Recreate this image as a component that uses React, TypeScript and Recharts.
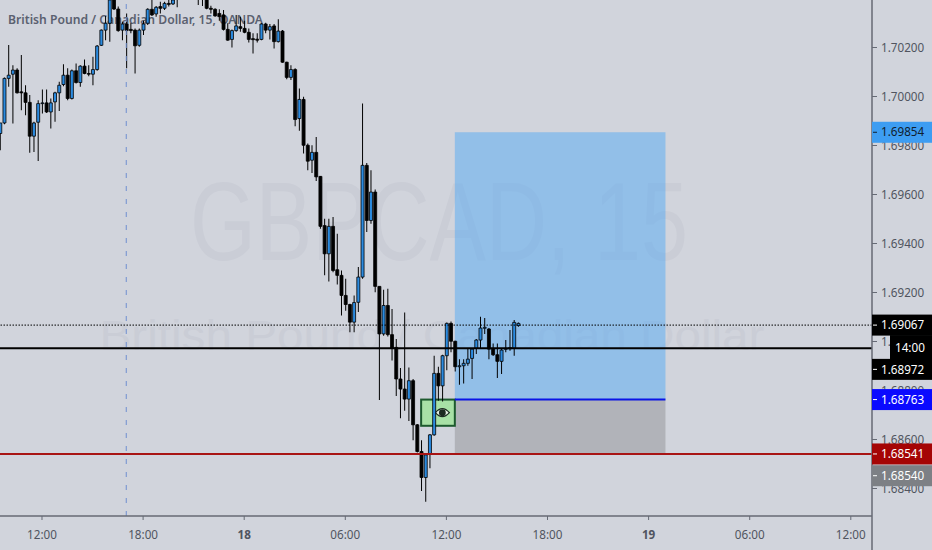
import React from "react";
import { ComposedChart, Bar, XAxis, YAxis, ReferenceLine, ReferenceArea, Cell } from "recharts";

const firstBar = -10;
// prices in 1e-5 units, one entry per 15 minute bar
const opens = [169849,169892,170074,170091,170108,170019,170015,169976,169838,169895,169971,169974,169937,169978,170015,170049,170087,169992,170105,170057,170124,170094,170091,170110,170209,170271,170299,170408,170357,170271,170296,170274,170271,170209,170271,170299,170356,170337,170367,170360,170380,170378,170405,170415,170430,170425,170440,170420,170405,170401,170360,170356,170339,170333,170274,170233,170269,170285,170278,170262,170236,170234,170233,170296,170271,170288,170224,170267,170140,170078,170110,169910,169988,169801,169740,169772,169674,169473,169358,169470,169293,169270,169188,169151,169079,169160,169263,169719,169494,169610,169225,169031,169147,169028,168976,168847,168806,168765,168840,168660,168551,168445,168540,168619,168870,168819,168942,169074,169001,168897,168901,168911,168931,168972,169006,169054,169051,168969,168946,168919,168968,168970,168972,169065];
const highs = [169892,170078,170210,170128,170115,170169,170046,170006,169897,169985,170029,170029,169992,170019,170060,170132,170115,170110,170135,170128,170151,170128,170162,170210,170274,170329,170401,170414,170367,170305,170339,170299,170278,170278,170309,170360,170394,170369,170387,170387,170394,170401,170430,170445,170450,170455,170450,170430,170420,170410,170370,170360,170356,170353,170299,170274,170333,170326,170309,170278,170258,170258,170299,170301,170296,170296,170315,170271,170142,170128,170115,170033,169999,169808,169801,169835,169676,169501,169501,169508,169440,169290,169256,169154,169188,169304,169971,169729,169699,169620,169225,169211,169215,169133,169010,168892,169118,168894,168847,168663,168597,168543,168622,168942,168897,168946,169078,169082,169003,168928,168928,168969,168973,169010,169101,169096,169055,168992,168992,168969,169006,169047,169088,169078];
const lows = [169781,169887,170040,169890,170012,169944,169924,169770,169774,169737,169931,169933,169869,169897,169941,170042,169985,169988,170053,170040,170091,170083,170046,170105,170206,170230,170224,170353,170264,170230,170115,170258,170094,170203,170251,170292,170329,170326,170339,170353,170367,170374,170364,170405,170415,170420,170410,170374,170369,170356,170339,170326,170309,170269,170228,170200,170264,170264,170258,170220,170176,170220,170230,170258,170233,170196,170220,170138,170070,170067,169879,169860,169767,169699,169688,169655,169460,169270,169245,169283,169233,169106,169126,169038,169038,169120,169256,169447,169481,169201,168761,169024,169020,168922,168778,168687,168717,168676,168597,168547,168390,168346,168483,168615,168758,168755,168883,168956,168878,168823,168829,168901,168847,168949,168969,169031,168928,168941,168851,168867,168956,168962,168942,169060];
const closes = [169892,170074,170087,170108,170015,170015,169976,169838,169892,169971,169974,169937,169974,170015,170046,170087,169992,170105,170057,170124,170094,170091,170110,170206,170271,170299,170394,170357,170269,170296,170269,170269,170207,170271,170296,170356,170333,170364,170360,170380,170376,170394,170420,170430,170425,170440,170420,170405,170398,170360,170356,170329,170326,170274,170230,170269,170288,170278,170262,170233,170232,170230,170296,170271,170285,170224,170267,170140,170078,170110,169906,169988,169801,169736,169772,169672,169470,169358,169470,169290,169270,169188,169151,169079,169159,169263,169719,169494,169610,169225,169031,169147,169028,168973,168847,168806,168765,168840,168660,168551,168445,168537,168619,168870,168819,168942,169074,169001,168897,168901,168911,168928,168969,169006,169055,169058,168969,168946,168919,168965,168972,168975,169078,169074];

const axisTicks = [0, 24, 48, 72, 96, 120, 144, 168, 192];
const axisLabels = ["12:00", "18:00", "18", "06:00", "12:00", "18:00", "19", "06:00", "12:00"];
const priceTicks = [1.684, 1.686, 1.688, 1.69, 1.692, 1.694, 1.696, 1.698, 1.7, 1.702];

const lastPrice = 1.69067;
const blackLevel = 1.68972;
const targetLevel = 1.69854;
const entryLevel = 1.68763;
const stopLevel = 1.68541;
const stopTagLevel = 1.6854;
const eyeBoxTop = 1.68763;
const eyeBoxBottom = 1.68656;
const sessionBar = 20;
const boxStartBar = 98;
const boxEndBar = 148;
const eyeStartBar = 90;
const countdown = "14:00";

const tagPrices = [targetLevel, lastPrice, blackLevel, entryLevel, stopTagLevel, stopLevel];
const tagFills = ["#3d9df2", "#000", "#000", "#0a0aff", "#7d8085", "#a50505"];
const tagInks = ["#10202e", "#fff", "#fff", "#fff", "#fff", "#fff"];
const tagShifts = [0, 0, 21, 0, 21.5, 0];

const candles = opens.map((o, i) => ({
  bar: firstBar + i,
  wick: [lows[i] / 1e5, highs[i] / 1e5],
  body: [Math.min(o, closes[i]) / 1e5, Math.max(o, closes[i]) / 1e5],
  up: closes[i] >= o,
}));

const FONT = "'Noto Sans', sans-serif";
const BG = "#d1d4dc";
const AXIS = "#666a75";
const INK = "#50545f";
const UP = "#2b8be0";
const LABEL_SIZE = 11.7;

function PriceTag(props: any) {
  const value = props.payload.value;
  const i = tagPrices.indexOf(value);
  const y = props.y + tagShifts[i];
  return (
    <g>
      <rect x={872} y={y - 10.5} width={60} height={21} fill={tagFills[i]} />
      <line x1={873} x2={877} y1={y} y2={y} stroke={tagInks[i]} />
      <text x={881} y={y + 4.2} fill={tagInks[i]} fontSize={LABEL_SIZE} fontFamily={FONT}>{value.toFixed(5)}</text>
      {value === lastPrice && (
        <g>
          <rect x={890} y={y + 10} width={42} height={24} fill="#000" />
          <text x={895} y={y + 26.5} fill="#fff" fontSize={LABEL_SIZE} fontFamily={FONT}>{countdown}</text>
        </g>
      )}
    </g>
  );
}

function EyeBox(props: any) {
  const { x, y, width, height } = props;
  const cx = x + width * 0.63;
  const cy = y + height / 2;
  return (
    <g>
      <rect x={x} y={y} width={width} height={height} fill="#7fee70" fillOpacity={0.5} stroke="#1d5a2e" strokeWidth={2} />
      <path d={`M${cx - 7} ${cy}Q${cx} ${cy - 8} ${cx + 7} ${cy}Q${cx} ${cy + 8} ${cx - 7} ${cy}Z`} fill="#e4efe2" stroke="#1c2a20" strokeWidth={1.3} />
      <circle cx={cx} cy={cy} r={3.4} fill="#1c2a20" />
    </g>
  );
}

const xAxisProps = {
  type: "number" as const,
  domain: [-9.97, 197.03],
  ticks: axisTicks,
  allowDataOverflow: true,
};
const priceDomain = [1.682878, 1.703939];

export default function App() {
  return (
    <div style={{ position: "absolute", left: 0, top: 0, width: 932, height: 550, background: BG, overflow: "hidden" }}>
      <ComposedChart width={932} height={550} data={candles} margin={{ top: 0, right: 0, bottom: 0, left: 0 }} barGap={0}>
        <text x={439} y={260} fontFamily="'Liberation Sans', sans-serif" fontSize={112} fill="#cacdd6" textAnchor="middle" textLength={498} lengthAdjust="spacingAndGlyphs">GBPCAD, 15</text>
        <text x={432} y={350} fontFamily="'Liberation Sans', sans-serif" fontSize={42} fill="#cacdd6" textAnchor="middle" textLength={665} lengthAdjust="spacingAndGlyphs">British Pound / Canadian Dollar</text>
        <text x={8} y={24} fontFamily={FONT} fontSize={13} fontWeight={600} fill="#5b6170" textLength={255} lengthAdjust="spacingAndGlyphs">British Pound / Canadian Dollar, 15, OANDA</text>
        <XAxis
          {...xAxisProps}
          xAxisId="main"
          dataKey="bar"
          height={34}
          interval={0}
          axisLine={{ stroke: AXIS, strokeWidth: 1.5 }}
          tickLine={{ stroke: AXIS }}
          tickSize={4}
          tick={(p: any) => {
            const label = axisLabels[axisTicks.indexOf(p.payload.value)];
            return (
              <text x={p.x} y={p.y + 17} textAnchor="middle" fontSize={LABEL_SIZE} fontFamily={FONT} fontWeight={label.length === 2 ? 700 : 400} fill={INK}>{label}</text>
            );
          }}
        />
        <XAxis {...xAxisProps} xAxisId="wicks" dataKey="bar" hide />
        <YAxis
          yAxisId="p"
          orientation="right"
          width={59}
          domain={priceDomain}
          allowDataOverflow
          ticks={priceTicks}
          interval={0}
          axisLine={{ stroke: AXIS, strokeWidth: 1.5 }}
          tickLine={{ stroke: AXIS }}
          tickSize={5}
          tick={(p: any) => (
            <text x={881} y={p.y + 4.2} fontSize={LABEL_SIZE} fontFamily={FONT} fill={INK}>{p.payload.value.toFixed(5)}</text>
          )}
        />
        <YAxis
          yAxisId="tags"
          orientation="right"
          width={1}
          domain={priceDomain}
          allowDataOverflow
          ticks={tagPrices}
          interval={0}
          axisLine={false}
          tickLine={false}
          tick={<PriceTag />}
        />
        <ReferenceLine yAxisId="p" xAxisId="main" x={sessionBar} stroke="#6f8fd0" strokeDasharray="5 8" />
        <Bar xAxisId="wicks" yAxisId="p" dataKey="wick" barSize={1} fill="#000" isAnimationActive={false} />
        <Bar xAxisId="main" yAxisId="p" dataKey="body" barSize={3} stroke="#000" strokeWidth={0.8} isAnimationActive={false}>
          {candles.map((c) => (
            <Cell key={c.bar} fill={c.up ? UP : "#000"} />
          ))}
        </Bar>
        <ReferenceLine yAxisId="p" xAxisId="main" y={lastPrice} stroke="#000" strokeDasharray="1.5 1.5" strokeWidth={1} />
        <ReferenceLine yAxisId="p" xAxisId="main" y={blackLevel} stroke="#000" strokeWidth={2} />
        <ReferenceLine yAxisId="p" xAxisId="main" y={stopLevel} stroke="#a81414" strokeWidth={2} />
        <ReferenceArea yAxisId="p" xAxisId="main" x1={boxStartBar} x2={boxEndBar} y1={entryLevel} y2={targetLevel} fill="#53aaf4" fillOpacity={0.5} stroke="none" />
        <ReferenceArea yAxisId="p" xAxisId="main" x1={boxStartBar} x2={boxEndBar} y1={stopLevel} y2={entryLevel} fill="#7a7a7e" fillOpacity={0.36} stroke="none" />
        <ReferenceLine yAxisId="p" xAxisId="main" segment={[{ x: boxStartBar, y: entryLevel }, { x: boxEndBar, y: entryLevel }]} stroke="#0a14e6" strokeWidth={2} />
        <ReferenceArea yAxisId="p" xAxisId="main" x1={eyeStartBar} x2={boxStartBar} y1={eyeBoxBottom} y2={eyeBoxTop} shape={<EyeBox />} />
        <line x1={872} x2={872} y1={516} y2={550} stroke={AXIS} strokeWidth={1.5} />
      </ComposedChart>
    </div>
  );
}
